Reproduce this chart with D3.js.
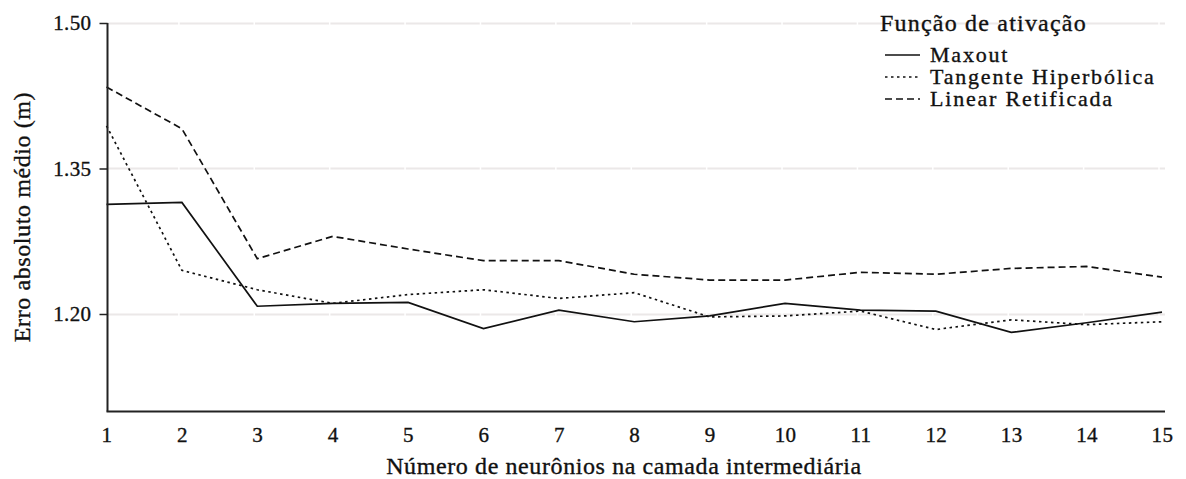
<!DOCTYPE html>
<html>
<head>
<meta charset="utf-8">
<script src="https://cdn.jsdelivr.net/npm/d3@7"></script>
<style>
  body { margin: 0; background: #fff; }
  svg text { stroke: #111; stroke-width: 0.35px; }
</style>
</head>
<body>
<script>
const neurons = d3.range(1, 16)
const yTicks = [1.20, 1.35, 1.50]

// erro absoluto medio (m) per activation function
const maxout = [1.313, 1.315, 1.208, 1.211, 1.212, 1.185, 1.204, 1.192, 1.198, 1.211, 1.204, 1.203, 1.181, 1.191, 1.202]
const tangente = [1.394, 1.245, 1.225, 1.211, 1.220, 1.225, 1.216, 1.222, 1.197, 1.198, 1.203, 1.184, 1.194, 1.189, 1.192]
const linear = [1.434, 1.391, 1.257, 1.280, 1.267, 1.255, 1.255, 1.241, 1.235, 1.235, 1.243, 1.241, 1.247, 1.249, 1.238]

const seriesNames = ["Maxout", "Tangente Hiperbólica", "Linear Retificada"]
const seriesDash = ["none", "2.5,3.5", "7,4"]
const series = [maxout, tangente, linear].map((vals, i) => ({name: seriesNames[i], dash: seriesDash[i], values: vals}))

const width = 1186
const height = 479
const serif = "'Liberation Serif', 'Times New Roman', Times, serif"

const svg = d3.select("body")
    .append("svg")
    .attr("width", width)
    .attr("height", height)
    .attr("font-family", serif)

const x = d3.scaleLinear().domain([1, 15]).range([106.5, 1162])
const y = d3.scaleLinear().domain([1.10, 1.50]).range([411, 23])

// grid
svg.append("g")
    .selectAll("line")
    .data(yTicks)
    .join("line")
    .attr("x1", 107).attr("x2", 1165)
    .attr("y1", d => Math.round(y(d)) + .5).attr("y2", d => Math.round(y(d)) + .5)
    .attr("stroke", "#ebe8e8")
    .attr("stroke-width", 2)

// little white breaks in the grid at each x position
svg.append("g")
    .selectAll("line")
    .data(neurons.slice(1))
    .join("line")
    .attr("x1", d => x(d) - 3).attr("x2", d => x(d) - 3)
    .attr("y1", 20).attr("y2", 410)
    .attr("stroke", "#fff")
    .attr("stroke-width", 1.5)

// lines
const line = d3.line()
    .x((d, i) => x(neurons[i]))
    .y(d => y(d))

svg.append("g")
    .selectAll("path")
    .data(series)
    .join("path")
    .attr("d", d => line(d.values))
    .attr("fill", "none")
    .attr("stroke", "#111")
    .attr("stroke-width", 1.7)
    .attr("stroke-dasharray", d => d.dash)

// axes
const yAxis = svg.append("g")
    .attr("transform", "translate(107.5,0)")
    .call(d3.axisLeft(y).tickValues(yTicks).tickFormat(d3.format(".2f")).tickSize(8).tickSizeOuter(0))
yAxis.attr("font-family", serif)
yAxis.select(".domain").attr("d", `M0,${y(1.5)}V${y(1.1) + 0.5}`).attr("stroke", "#222").attr("stroke-width", 2)
yAxis.selectAll(".tick line").attr("stroke", "#222").attr("stroke-width", 1.5)
yAxis.selectAll(".tick text").attr("x", -16)
    .attr("font-family", serif).attr("font-size", 21).attr("letter-spacing", 0.4).attr("fill", "#111")

const xAxis = svg.append("g")
    .attr("transform", "translate(0,411.5)")
    .call(d3.axisBottom(x).tickValues(neurons).tickFormat(d3.format("d")).tickSize(0).tickSizeOuter(0))
xAxis.attr("font-family", serif)
xAxis.select(".domain").attr("d", "M106.5,0H1165").attr("stroke", "#222").attr("stroke-width", 2)
xAxis.selectAll(".tick text").attr("y", 16)
    .attr("font-family", serif).attr("font-size", 21).attr("letter-spacing", 0.4).attr("fill", "#111")

// axis titles
svg.append("text")
    .attr("x", 624).attr("y", 474)
    .attr("text-anchor", "middle")
    .attr("font-size", 24).attr("letter-spacing", 0.6).attr("fill", "#111")
    .text("Número de neurônios na camada intermediária")

svg.append("text")
    .attr("transform", "translate(30,217) rotate(-90)")
    .attr("text-anchor", "middle")
    .attr("font-size", 24).attr("letter-spacing", 0.6).attr("fill", "#111")
    .text("Erro absoluto médio (m)")

// legend
const legend = svg.append("g").attr("transform", "translate(880,0)")
legend.append("text")
    .attr("x", 0).attr("y", 31)
    .attr("font-size", 24).attr("letter-spacing", 1.2).attr("fill", "#111")
    .text("Função de ativação")

const items = legend.selectAll(".item")
    .data(series)
    .join("g")
    .attr("class", "item")
    .attr("transform", (d, i) => `translate(0,${55 + i * 22})`)
items.append("line")
    .attr("x1", 5).attr("x2", 40)
    .attr("stroke", "#111")
    .attr("stroke-width", 1.7)
    .attr("stroke-dasharray", d => d.dash)
items.append("text")
    .attr("x", 50).attr("y", 7)
    .attr("font-size", 22).attr("letter-spacing", 1.8).attr("fill", "#111")
    .text(d => d.name)
</script>
</body>
</html>
